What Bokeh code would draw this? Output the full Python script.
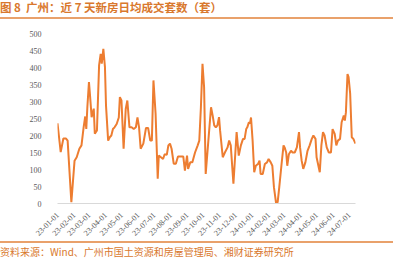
import pandas as pd
from bokeh.plotting import figure
from bokeh.models import Range1d, FixedTicker, Div
from bokeh.layouts import column
from bokeh.embed import file_html
from bokeh.resources import INLINE
import math

title_text = "图 8  广州：近 7 天新房日均成交套数（套）"
source_text = "资料来源：Wind、广州市国土资源和房屋管理局、湘财证券研究所"

start_date = "2023-01-01"
# day offsets from 2023-01-01
days = [0, 6, 11, 16, 19, 26, 32, 36, 41, 45, 49, 52, 54, 56, 59, 61, 64, 68, 70, 74,
        78, 81, 83, 86, 89, 91, 95, 98, 101, 104, 107, 111, 115, 117, 120, 124, 128, 131, 135, 139,
        143, 147, 150, 153, 156, 161, 166, 170, 174, 177, 180, 184, 188, 190, 194, 198, 201, 205, 208, 211,
        214, 218, 222, 226, 231, 236, 239, 243, 245, 249, 253, 258, 263, 266, 269, 272, 275, 278, 283, 288,
        291, 294, 297, 300, 303, 305, 310, 314, 319, 322, 325, 330, 336, 340, 344, 348, 351, 354, 356, 359,
        361, 363, 366, 369, 372, 376, 379, 381, 385, 389, 393, 396, 400, 403, 406, 410, 413, 416, 420, 424,
        426, 429, 431, 434, 438, 441, 445, 449, 453, 455, 458, 461, 465, 469, 473, 477, 480, 484, 486, 492,
        495, 498, 501, 505, 509, 513, 516, 520, 523, 526, 530, 533, 537, 539, 541, 544, 546, 549, 552, 555,
        559]
units = [236, 151, 191, 191, 185, 4, 126, 136, 161, 171, 224, 256, 219, 283, 357, 318, 254, 279, 205, 215,
         406, 440, 411, 455, 402, 288, 185, 195, 200, 219, 224, 234, 253, 313, 303, 161, 278, 303, 224, 224,
         219, 224, 253, 224, 161, 176, 222, 222, 185, 185, 362, 264, 73, 141, 136, 131, 145, 143, 171, 176,
         161, 117, 117, 138, 138, 138, 97, 141, 102, 121, 121, 150, 171, 185, 283, 411, 342, 87, 185, 283,
         259, 230, 224, 230, 254, 215, 136, 150, 165, 185, 171, 58, 210, 141, 171, 190, 190, 219, 224, 239,
         235, 253, 185, 92, 111, 116, 126, 87, 87, 116, 121, 131, 121, 111, 48, 1, 4, 48, 111, 171,
         165, 150, 111, 145, 155, 150, 150, 165, 210, 165, 126, 102, 121, 155, 171, 190, 200, 190, 136, 92,
         171, 210, 200, 165, 150, 150, 219, 205, 171, 185, 190, 239, 259, 244, 268, 381, 372, 323, 195, 190,
         176]

x_tick_labels = ["23-01-01", "23-02-01", "23-03-01", "23-04-01", "23-05-01", "23-06-01",
                 "23-07-01", "23-08-01", "23-09-01", "23-10-01", "23-11-01", "23-12-01",
                 "24-01-01", "24-02-01", "24-03-01", "24-04-01", "24-05-01", "24-06-01", "24-07-01"]
y_ticks = [0, 50, 100, 150, 200, 250, 300, 350, 400, 450, 500]

t0 = pd.Timestamp(start_date)
tick_days = [int((pd.Timestamp("20" + s) - t0).days) for s in x_tick_labels]

ORANGE = "#ED7D31"
TXT_ORANGE = "#D9782D"

title_div = Div(text=title_text, width=393, height=16,
                styles={"font-family": "Noto Sans CJK SC", "font-size": "11.5px", "font-weight": "bold",
                        "color": TXT_ORANGE, "border-bottom": "2px solid #E9A16B", "line-height": "13px",
                        "white-space": "pre", "width": "393px", "height": "13px", "margin": "0",
                        "padding": "1px 0 0 0", "box-sizing": "content-box", "overflow": "visible"})

p = figure(width=393, height=222, output_backend="svg", toolbar_location=None,
           x_range=Range1d(0, max(days)), y_range=Range1d(0, 500),
           min_border_left=57, min_border_right=38, min_border_top=14, min_border_bottom=38)
p.outline_line_color = None
p.background_fill_color = "white"
p.border_fill_color = "white"
p.xgrid.grid_line_color = None
p.ygrid.grid_line_color = None

p.line(days, units, line_color=ORANGE, line_width=2)

p.yaxis.ticker = FixedTicker(ticks=y_ticks)
p.yaxis.axis_line_color = None
p.yaxis.major_tick_line_color = None
p.yaxis.minor_tick_line_color = None
p.yaxis.major_label_text_font = "Liberation Serif"
p.yaxis.major_label_text_font_size = "8px"
p.yaxis.major_label_text_color = "#595959"
p.yaxis.major_label_standoff = 10

p.xaxis.ticker = FixedTicker(ticks=tick_days)
p.xaxis.major_label_overrides = {d: s for d, s in zip(tick_days, x_tick_labels)}
p.xaxis.axis_line_color = "#D9D9D9"
p.xaxis.major_tick_line_color = None
p.xaxis.minor_tick_line_color = None
p.xaxis.major_label_orientation = math.pi / 4
p.xaxis.major_label_text_font = "Liberation Serif"
p.xaxis.major_label_text_font_size = "8px"
p.xaxis.major_label_text_color = "#595959"
p.xaxis.major_label_standoff = 4

foot_div = Div(text=source_text, width=393, height=26,
               styles={"font-family": "Noto Sans CJK SC", "font-size": "10px",
                       "color": TXT_ORANGE, "border-top": "2px solid #E9A16B", "line-height": "14px",
                       "width": "393px", "margin": "0", "padding": "2px 0 0 0", "white-space": "pre"})

layout = column(title_div, p, foot_div, spacing=0)
open("out.html", "w").write(file_html(layout, INLINE))
